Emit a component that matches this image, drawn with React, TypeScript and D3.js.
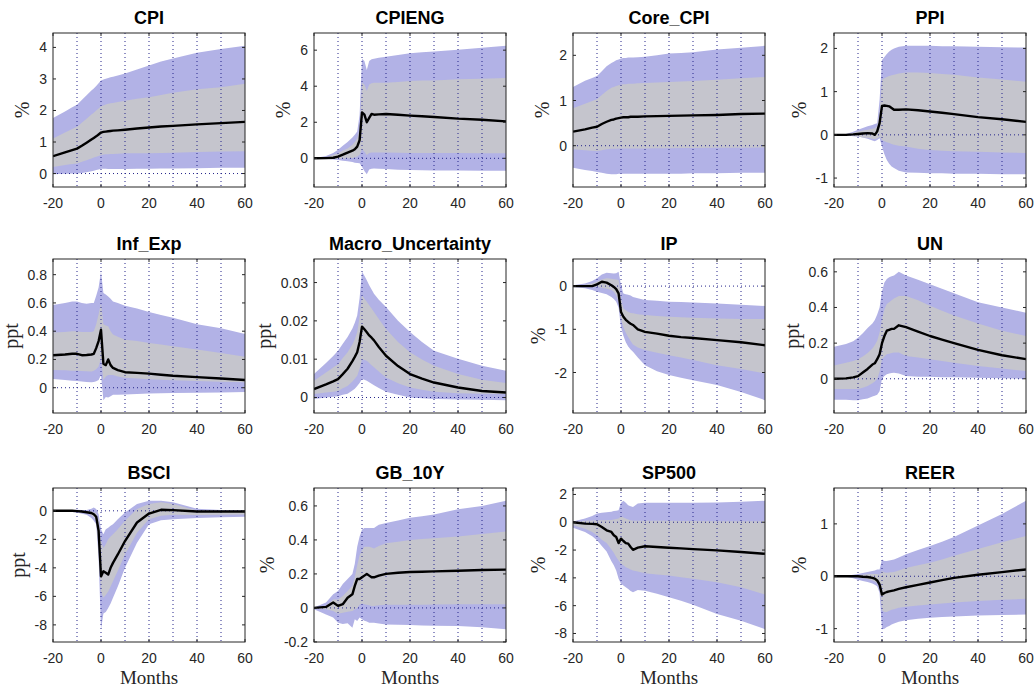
import React from "react";
import * as d3 from "d3";

// ---------------- DATA ----------------
const MONTHS = [-20,-15,-12,-10,-8,-6,-4,-3,-2,-1,0,1,2,3,4,5,7,10,15,20,25,30,40,50,60];
const X_TICKS = [-20, 0, 20, 40, 60];
const GRID_X = [-10, 0, 10, 20, 30, 40, 50];

const TITLES = ["CPI","CPIENG","Core_CPI","PPI","Inf_Exp","Macro_Uncertainty","IP","UN","BSCI","GB_10Y","SP500","REER"];
const UNITS = ["%","%","%","%","ppt","ppt","%","ppt","ppt","%","%","%"];
const Y_TICKS = [
  [0,1,2,3,4],[0,2,4,6],[0,1,2],[-1,0,1,2],
  [0,0.2,0.4,0.6,0.8],[0,0.01,0.02,0.03],[-2,-1,0],[0,0.2,0.4,0.6],
  [-8,-6,-4,-2,0],[-0.2,0,0.2,0.4,0.6],[-8,-6,-4,-2,0,2],[-1,0,1],
];

const cpiMed  = [0.55,0.67,0.74,0.79,0.88,0.98,1.08,1.13,1.18,1.24,1.30,1.32,1.33,1.34,1.35,1.36,1.37,1.39,1.43,1.46,1.49,1.51,1.56,1.60,1.64];
const cpiHi90 = [1.76,1.97,2.10,2.18,2.33,2.48,2.63,2.70,2.78,2.86,2.95,2.98,3.01,3.03,3.05,3.07,3.11,3.17,3.30,3.43,3.55,3.65,3.83,3.95,4.05];
const cpiHi68 = [1.11,1.30,1.41,1.48,1.61,1.74,1.87,1.93,2.00,2.06,2.13,2.16,2.19,2.21,2.23,2.24,2.27,2.31,2.37,2.42,2.49,2.56,2.67,2.74,2.85];
const cpiLo68 = [0.21,0.27,0.30,0.32,0.37,0.42,0.48,0.51,0.53,0.56,0.59,0.60,0.61,0.61,0.62,0.62,0.63,0.64,0.64,0.64,0.65,0.66,0.68,0.70,0.71];
const cpiLo90 = [-0.02,-0.01,0,0,0.02,0.04,0.07,0.09,0.11,0.13,0.15,0.15,0.15,0.14,0.14,0.14,0.14,0.14,0.15,0.15,0.16,0.16,0.17,0.18,0.18];

const cpiengMed  = [0,0.01,0.03,0.09,0.2,0.32,0.42,0.5,0.65,1.0,2.55,2.42,2.0,2.24,2.46,2.42,2.44,2.46,2.42,2.37,2.33,2.29,2.20,2.14,2.05];
const cpiengHi90 = [0,0.13,0.3,0.47,0.7,0.9,1.15,1.3,1.49,2.4,5.53,5.4,4.9,5.4,5.5,5.53,5.58,5.63,5.73,5.83,5.88,5.93,6.02,6.13,6.24];
const cpiengHi68 = [0,0.06,0.18,0.28,0.43,0.55,0.75,0.9,1.1,1.6,4.19,4.1,3.73,4.1,4.17,4.19,4.19,4.19,4.24,4.29,4.31,4.32,4.38,4.42,4.45];
const cpiengLo68 = [0,0,-0.01,-0.03,-0.03,-0.01,0.02,0.05,0.1,0.2,0.5,0.37,0.19,0.3,0.32,0.32,0.32,0.32,0.31,0.30,0.30,0.29,0.29,0.28,0.28];
const cpiengLo90 = [0,-0.03,-0.07,-0.1,-0.14,-0.17,-0.21,-0.24,-0.26,-0.28,-0.47,-0.7,-0.88,-0.62,-0.58,-0.56,-0.58,-0.6,-0.63,-0.65,-0.66,-0.67,-0.68,-0.69,-0.69];

const coreMed  = [0.31,0.36,0.40,0.42,0.48,0.53,0.57,0.58,0.60,0.61,0.62,0.63,0.63,0.63,0.64,0.64,0.64,0.65,0.655,0.66,0.665,0.67,0.68,0.70,0.71];
const coreHi90 = [1.3,1.44,1.5,1.54,1.65,1.76,1.83,1.86,1.89,1.91,1.93,1.94,1.94,1.95,1.95,1.95,1.96,1.97,2.0,2.04,2.05,2.07,2.13,2.17,2.21];
const coreHi68 = [0.83,0.93,0.99,1.03,1.12,1.21,1.28,1.30,1.32,1.34,1.35,1.36,1.36,1.37,1.37,1.37,1.38,1.39,1.40,1.41,1.42,1.43,1.46,1.49,1.52];
const coreLo68 = [-0.08,-0.1,-0.11,-0.12,-0.1,-0.08,-0.07,-0.07,-0.065,-0.06,-0.06,-0.06,-0.06,-0.06,-0.06,-0.06,-0.06,-0.06,-0.055,-0.055,-0.05,-0.05,-0.045,-0.045,-0.04];
const coreLo90 = [-0.49,-0.54,-0.56,-0.58,-0.6,-0.62,-0.63,-0.63,-0.63,-0.62,-0.62,-0.62,-0.62,-0.62,-0.62,-0.62,-0.62,-0.62,-0.62,-0.62,-0.62,-0.61,-0.61,-0.60,-0.60];

const ppiMed  = [0,0,0.01,0.02,0.03,0.04,0.03,0.0,0.08,0.27,0.67,0.68,0.67,0.66,0.62,0.58,0.58,0.59,0.57,0.54,0.51,0.48,0.41,0.36,0.30];
const ppiHi90 = [0,0.02,0.07,0.12,0.16,0.2,0.23,0.25,0.27,0.81,1.73,1.8,1.87,1.93,1.97,2.0,2.04,2.06,2.06,2.06,2.05,2.05,2.04,2.03,2.02];
const ppiHi68 = [0,0.01,0.05,0.08,0.1,0.12,0.14,0.15,0.2,0.5,1.27,1.31,1.34,1.36,1.38,1.39,1.42,1.44,1.44,1.43,1.41,1.39,1.33,1.28,1.23];
const ppiLo68 = [0,0,-0.02,-0.04,-0.06,-0.07,-0.09,-0.1,-0.08,-0.05,-0.12,-0.15,-0.17,-0.19,-0.21,-0.23,-0.25,-0.27,-0.32,-0.35,-0.37,-0.38,-0.39,-0.41,-0.42];
const ppiLo90 = [0,-0.01,-0.03,-0.04,-0.06,-0.09,-0.13,-0.15,-0.12,-0.08,-0.27,-0.45,-0.58,-0.67,-0.73,-0.77,-0.83,-0.87,-0.88,-0.89,-0.89,-0.9,-0.9,-0.91,-0.91];

const infMed  = [0.23,0.235,0.24,0.24,0.23,0.232,0.235,0.24,0.28,0.33,0.41,0.17,0.16,0.2,0.16,0.14,0.125,0.11,0.105,0.1,0.092,0.085,0.075,0.065,0.055];
const infHi90 = [0.586,0.6,0.61,0.61,0.6,0.595,0.6,0.6,0.65,0.71,0.82,0.67,0.66,0.645,0.63,0.61,0.6,0.58,0.56,0.535,0.515,0.495,0.45,0.42,0.38];
const infHi68 = [0.39,0.395,0.4,0.4,0.395,0.395,0.395,0.4,0.45,0.52,0.6,0.45,0.44,0.435,0.4,0.376,0.36,0.34,0.33,0.317,0.305,0.293,0.27,0.245,0.22];
const infLo68 = [0.126,0.123,0.12,0.12,0.118,0.116,0.115,0.12,0.13,0.15,0.21,0.055,0.08,0.09,0.09,0.09,0.08,0.07,0.065,0.06,0.057,0.053,0.048,0.043,0.038];
const infLo90 = [0.062,0.055,0.05,0.048,0.044,0.04,0.038,0.04,0.045,0.055,0.09,-0.088,-0.065,-0.07,-0.06,-0.05,-0.05,-0.048,-0.044,-0.04,-0.039,-0.038,-0.036,-0.033,-0.03];

const muMed  = [0.0022,0.0034,0.0042,0.0048,0.0061,0.0075,0.0095,0.0106,0.0118,0.0145,0.0185,0.0178,0.017,0.0162,0.0156,0.0149,0.0132,0.0109,0.0082,0.0061,0.0049,0.0039,0.0026,0.0017,0.0013];
const muHi90 = [0.0061,0.009,0.0108,0.0122,0.014,0.0158,0.018,0.0195,0.0214,0.026,0.0328,0.0318,0.0306,0.0293,0.0282,0.0271,0.0255,0.0236,0.02,0.0171,0.0145,0.0122,0.0101,0.0083,0.007];
const muHi68 = [0.0044,0.0065,0.0078,0.0087,0.0103,0.0118,0.0138,0.0152,0.017,0.021,0.0267,0.0258,0.025,0.0241,0.0232,0.0223,0.0205,0.0179,0.0145,0.0118,0.0099,0.0083,0.0061,0.0046,0.0038];
const muLo68 = [0.0009,0.0013,0.0015,0.0017,0.0024,0.003,0.0042,0.0049,0.0057,0.0075,0.01,0.0098,0.0096,0.009,0.0084,0.0079,0.0068,0.0052,0.0037,0.0026,0.002,0.0015,0.0011,0.001,0.0009];
const muLo90 = [-0.0004,0,0.0002,0.0003,0.0007,0.001,0.0018,0.0023,0.003,0.0038,0.0048,0.0046,0.0044,0.004,0.0036,0.0032,0.0025,0.0015,0.0007,0,-0.0002,-0.0004,-0.0005,-0.0006,-0.0007];

const ipMed  = [0,0,0,0.04,0.1,0.08,0.02,-0.02,-0.07,-0.17,-0.6,-0.71,-0.78,-0.83,-0.87,-0.9,-1.0,-1.06,-1.1,-1.15,-1.18,-1.2,-1.25,-1.3,-1.37];
const ipHi90 = [0.02,0.06,0.12,0.18,0.27,0.31,0.3,0.29,0.3,0.33,0.02,-0.17,-0.19,-0.2,-0.22,-0.25,-0.28,-0.32,-0.34,-0.36,-0.37,-0.38,-0.4,-0.43,-0.46];
const ipHi68 = [0,0.03,0.06,0.1,0.15,0.18,0.17,0.16,0.15,0.14,-0.29,-0.52,-0.56,-0.6,-0.62,-0.63,-0.65,-0.67,-0.69,-0.71,-0.72,-0.73,-0.75,-0.76,-0.76];
const ipLo68 = [0,-0.01,-0.01,-0.02,-0.04,-0.06,-0.09,-0.13,-0.21,-0.35,-0.75,-0.95,-1.08,-1.18,-1.27,-1.35,-1.42,-1.48,-1.54,-1.6,-1.65,-1.71,-1.83,-1.92,-2.02];
const ipLo90 = [-0.02,-0.05,-0.09,-0.13,-0.16,-0.19,-0.25,-0.3,-0.36,-0.5,-0.95,-1.15,-1.3,-1.4,-1.47,-1.52,-1.65,-1.83,-1.97,-2.06,-2.12,-2.18,-2.29,-2.45,-2.64];

const unMed  = [0,0.002,0.008,0.015,0.035,0.055,0.08,0.087,0.11,0.138,0.2,0.24,0.27,0.275,0.28,0.28,0.3,0.29,0.265,0.24,0.22,0.2,0.162,0.132,0.11];
const unHi90 = [0.18,0.195,0.21,0.23,0.255,0.285,0.31,0.33,0.36,0.4,0.49,0.54,0.56,0.57,0.575,0.58,0.6,0.58,0.555,0.53,0.505,0.48,0.43,0.4,0.37];
const unHi68 = [0.075,0.09,0.1,0.11,0.125,0.145,0.17,0.19,0.213,0.26,0.336,0.39,0.42,0.43,0.44,0.45,0.465,0.464,0.44,0.41,0.382,0.355,0.31,0.27,0.24];
const unLo68 = [-0.057,-0.057,-0.057,-0.057,-0.05,-0.04,-0.025,-0.015,0,0.04,0.11,0.125,0.138,0.14,0.145,0.147,0.147,0.128,0.12,0.11,0.1,0.09,0.072,0.057,0.043];
const unLo90 = [-0.117,-0.118,-0.12,-0.12,-0.115,-0.11,-0.1,-0.095,-0.089,-0.07,0,0.015,0.025,0.03,0.032,0.034,0.03,0.015,0.012,0.011,0.009,0.008,0.006,0.003,0];

const bsciMed  = [0,0,0,-0.02,-0.05,-0.1,-0.15,-0.24,-0.42,-1.4,-4.6,-4.24,-4.35,-4.47,-4.0,-3.65,-3.06,-2.12,-0.82,-0.19,0.07,0.05,-0.05,-0.05,-0.05];
const bsciHi90 = [0,0.02,0.05,0.07,0.06,0.05,0.15,0.24,0.12,-0.24,-1.29,-1.65,-1.29,-1.18,-1.05,-0.94,-0.6,-0.12,0.47,0.7,0.7,0.6,0.15,0.05,0];
const bsciHi68 = [0,0,0,0,-0.02,-0.04,-0.06,-0.1,-0.19,-0.7,-2.1,-2.6,-2.35,-2.0,-1.8,-1.65,-1.3,-0.7,0.12,0.47,0.6,0.47,0.02,0,0];
const bsciLo68 = [0,-0.01,-0.02,-0.04,-0.1,-0.16,-0.3,-0.45,-0.7,-2.6,-5.65,-6.1,-5.9,-5.65,-5.3,-4.94,-4.2,-3.06,-1.53,-0.59,-0.35,-0.28,-0.3,-0.28,-0.26];
const bsciLo90 = [-0.01,-0.04,-0.08,-0.12,-0.2,-0.28,-0.5,-0.7,-0.94,-3.3,-8.3,-7.2,-7.1,-6.82,-6.5,-6.1,-5.3,-4.0,-2.24,-0.94,-0.66,-0.59,-0.5,-0.45,-0.42];

const gbMed  = [0,0.006,0.032,0.012,0.022,0.06,0.08,0.13,0.17,0.17,0.18,0.19,0.2,0.19,0.18,0.18,0.19,0.2,0.207,0.211,0.213,0.215,0.219,0.223,0.225];
const gbHi90 = [0.002,0.032,0.08,0.1,0.14,0.17,0.2,0.26,0.36,0.42,0.46,0.47,0.47,0.47,0.47,0.47,0.49,0.5,0.515,0.53,0.54,0.55,0.58,0.6,0.63];
const gbHi68 = [0,0.012,0.05,0.05,0.07,0.1,0.13,0.18,0.25,0.31,0.34,0.36,0.36,0.36,0.355,0.35,0.365,0.38,0.39,0.4,0.405,0.41,0.42,0.435,0.45];
const gbLo68 = [0,-0.008,-0.018,-0.034,-0.028,-0.022,-0.018,-0.01,0,0.018,0.026,0.022,0.018,0.015,0.012,0.012,0.015,0.018,0.018,0.018,0.019,0.02,0.021,0.022,0.022];
const gbLo90 = [-0.008,-0.038,-0.057,-0.087,-0.095,-0.09,-0.117,-0.067,-0.077,-0.057,-0.067,-0.075,-0.08,-0.087,-0.087,-0.087,-0.092,-0.097,-0.099,-0.1,-0.103,-0.105,-0.107,-0.113,-0.125];

const spMed  = [0,-0.1,-0.12,-0.14,-0.34,-0.58,-0.7,-0.94,-1.06,-1.5,-1.18,-1.35,-1.5,-1.54,-1.78,-1.98,-1.83,-1.73,-1.78,-1.83,-1.88,-1.93,-2.02,-2.14,-2.27];
const spHi90 = [0.05,0.27,0.45,0.63,0.68,0.72,0.75,0.8,0.82,0.87,1.4,1.54,1.4,1.23,1.15,1.1,1.35,1.4,1.4,1.4,1.4,1.4,1.42,1.47,1.54];
const spHi68 = [0,0.1,0.12,0.14,0.14,0.14,0.16,0.2,0.24,0.27,0.43,0.35,0.27,0.2,0.15,0.1,0.1,0.1,0.1,0.1,0.09,0.09,0.08,0.08,0.07];
const spLo68 = [-0.22,-0.46,-0.7,-0.94,-1.25,-1.5,-1.95,-2.2,-2.5,-2.75,-2.99,-3.1,-3.23,-3.3,-3.4,-3.47,-3.55,-3.66,-3.75,-3.83,-3.95,-4.07,-4.31,-4.67,-5.2];
const spLo90 = [-0.39,-0.7,-1.0,-1.3,-1.7,-2.1,-2.8,-3.1,-3.47,-4.07,-4.43,-4.55,-4.67,-4.8,-4.95,-5.04,-4.87,-4.92,-5.15,-5.4,-5.65,-5.93,-6.6,-7.08,-7.69];

const reerMed  = [0,0,0,0,-0.01,-0.015,-0.03,-0.045,-0.08,-0.16,-0.35,-0.32,-0.3,-0.29,-0.28,-0.27,-0.24,-0.21,-0.165,-0.12,-0.075,-0.03,0.03,0.08,0.13];
const reerHi90 = [0,0.01,0.03,0.045,0.06,0.08,0.1,0.11,0.13,0.13,0.32,0.29,0.29,0.3,0.31,0.32,0.36,0.42,0.5,0.58,0.66,0.75,0.97,1.19,1.44];
const reerHi68 = [0,0.005,0.015,0.02,0.03,0.04,0.045,0.045,0.045,0.03,0.1,0.07,0.065,0.07,0.075,0.08,0.11,0.16,0.21,0.26,0.32,0.39,0.52,0.65,0.77];
const reerLo68 = [0,-0.005,-0.01,-0.02,-0.035,-0.05,-0.08,-0.1,-0.13,-0.23,-0.65,-0.68,-0.68,-0.66,-0.64,-0.63,-0.6,-0.58,-0.56,-0.54,-0.52,-0.5,-0.47,-0.45,-0.43];
const reerLo90 = [0,-0.01,-0.04,-0.065,-0.09,-0.11,-0.14,-0.16,-0.19,-0.32,-1.01,-1.0,-0.97,-0.95,-0.92,-0.9,-0.87,-0.84,-0.81,-0.79,-0.78,-0.77,-0.75,-0.74,-0.73];

const MEDS = [cpiMed, cpiengMed, coreMed, ppiMed, infMed, muMed, ipMed, unMed, bsciMed, gbMed, spMed, reerMed];
const HI90 = [cpiHi90, cpiengHi90, coreHi90, ppiHi90, infHi90, muHi90, ipHi90, unHi90, bsciHi90, gbHi90, spHi90, reerHi90];
const HI68 = [cpiHi68, cpiengHi68, coreHi68, ppiHi68, infHi68, muHi68, ipHi68, unHi68, bsciHi68, gbHi68, spHi68, reerHi68];
const LO68 = [cpiLo68, cpiengLo68, coreLo68, ppiLo68, infLo68, muLo68, ipLo68, unLo68, bsciLo68, gbLo68, spLo68, reerLo68];
const LO90 = [cpiLo90, cpiengLo90, coreLo90, ppiLo90, infLo90, muLo90, ipLo90, unLo90, bsciLo90, gbLo90, spLo90, reerLo90];

// ---------------- LAYOUT / STYLE ----------------
const W = 1034, H = 689;
const COL_LEFT = [53, 314, 573, 834];
const ROW_TOP = [33, 259, 488];
const PW = 192, PH = 154;
const BLUE = "#b2b2e6";
const GREY = "#c5c5cd";
const AXIS = "#262626";
const DOT = "#24248a";
const SANS = "'Liberation Sans', Arial, Helvetica, sans-serif";
const SERIF = "'Liberation Serif', 'Times New Roman', serif";
const TICK_FS = 14;

function fmt(v: number) { return String(+v.toFixed(6)); }
function labelWidth(s: string, fs: number) {
  let w = 0;
  for (const c of s) w += c === "." ? 0.278 : c === "-" ? 0.333 : 0.556;
  return w * fs;
}

function Panel({ i }: { i: number }) {
  const col = i % 4, row = Math.floor(i / 4);
  const x0 = COL_LEFT[col], y0 = ROW_TOP[row];
  const all = [...LO90[i], ...HI90[i], ...MEDS[i], ...LO68[i], ...HI68[i]];
  const mn = d3.min(all) as number, mx = d3.max(all) as number;
  const r = mx - mn;
  const x = d3.scaleLinear().domain([-20, 60]).range([x0, x0 + PW]);
  const y = d3.scaleLinear().domain([mn - 0.1 * r, mx + 0.1 * r]).range([y0 + PH, y0]);
  const [d0, d1] = y.domain();
  const tol = (d1 - d0) * 0.01;
  const yt = Y_TICKS[i].filter((v) => v >= d0 - tol && v <= d1 + tol);

  const band = (lo: number[], hi: number[]) =>
    d3.area<number>().x((_, k) => x(MONTHS[k])).y0((_, k) => y(lo[k])).y1((_, k) => y(hi[k]))(MONTHS) as string;
  const line = d3.line<number>().x((_, k) => x(MONTHS[k])).y((v) => y(v))(MEDS[i]) as string;

  const maxW = d3.max(yt.map((v) => labelWidth(fmt(v), TICK_FS))) as number;
  const labX = x0 - 6 - maxW - 10;
  const clipId = `clip${i}`;
  const tl = 3;

  return (
    <g>
      <defs>
        <clipPath id={clipId}>
          <rect x={x0} y={y0} width={PW} height={PH} />
        </clipPath>
      </defs>
      <g clipPath={`url(#${clipId})`}>
        <path d={band(LO90[i], HI90[i])} fill={BLUE} />
        <path d={band(LO68[i], HI68[i])} fill={GREY} />
        {GRID_X.map((g) => (
          <line key={g} x1={x(g)} x2={x(g)} y1={y0} y2={y0 + PH} stroke={DOT} strokeWidth={1} strokeDasharray="1 3" />
        ))}
        <line x1={x0} x2={x0 + PW} y1={y(0)} y2={y(0)} stroke={DOT} strokeWidth={1} strokeDasharray="1 3" />
        <path d={line} fill="none" stroke="#000" strokeWidth={2.4} strokeLinejoin="round" />
      </g>
      <rect x={x0} y={y0} width={PW} height={PH} fill="none" stroke={AXIS} strokeWidth={1} />
      {X_TICKS.map((t) => (
        <g key={t}>
          <line x1={x(t)} x2={x(t)} y1={y0 + PH} y2={y0 + PH - tl} stroke={AXIS} />
          <line x1={x(t)} x2={x(t)} y1={y0} y2={y0 + tl} stroke={AXIS} />
          <text x={x(t)} y={y0 + PH + 21} textAnchor="middle" fontFamily={SANS} fontSize={TICK_FS} fill={AXIS}>
            {fmt(t)}
          </text>
        </g>
      ))}
      {yt.map((t) => (
        <g key={t}>
          <line x1={x0} x2={x0 + tl} y1={y(t)} y2={y(t)} stroke={AXIS} />
          <line x1={x0 + PW} x2={x0 + PW - tl} y1={y(t)} y2={y(t)} stroke={AXIS} />
          <text x={x0 - 6} y={y(t) + 5} textAnchor="end" fontFamily={SANS} fontSize={TICK_FS} fill={AXIS}>
            {fmt(t)}
          </text>
        </g>
      ))}
      <text x={x0 + PW / 2} y={y0 - 9} textAnchor="middle" fontFamily={SANS} fontWeight="bold" fontSize={18} fill="#000">
        {TITLES[i]}
      </text>
      <text transform={`translate(${labX},${y0 + PH / 2}) rotate(-90)`} textAnchor="middle" fontFamily={SERIF} fontSize={20} fill={AXIS}>
        {UNITS[i]}
      </text>
      {row === 2 && (
        <text x={x0 + PW / 2} y={y0 + PH + 42} textAnchor="middle" fontFamily={SERIF} fontSize={19} fill={AXIS}>
          Months
        </text>
      )}
    </g>
  );
}

export default function App() {
  return (
    <svg width={W} height={H} style={{ position: "absolute", left: 0, top: 0, background: "#fff" }}>
      <rect x={0} y={0} width={W} height={H} fill="#fff" />
      {TITLES.map((_, i) => (
        <Panel key={i} i={i} />
      ))}
    </svg>
  );
}
